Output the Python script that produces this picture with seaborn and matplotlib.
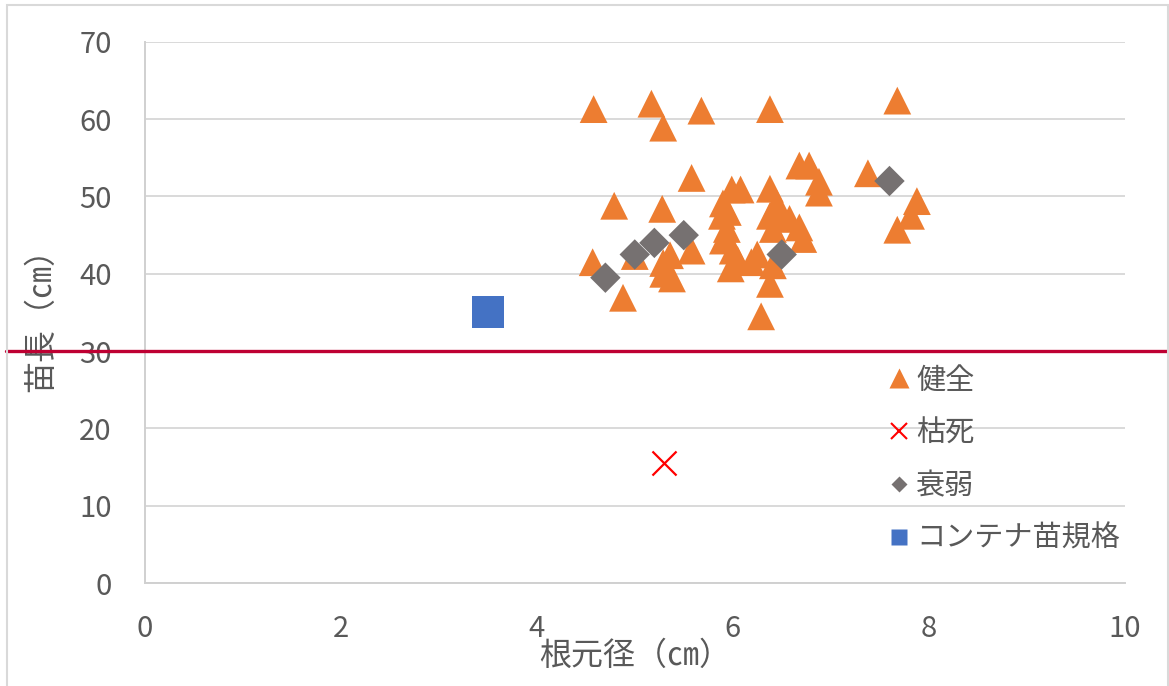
import matplotlib
matplotlib.use("Agg")
import matplotlib.pyplot as plt
from matplotlib.lines import Line2D
from matplotlib.patches import Rectangle
import seaborn as sns
import pandas as pd

# 健全 (healthy seedlings): root-collar diameter (cm), seedling height (cm)
healthy_x = [4.58, 5.17, 5.29, 5.68, 6.38, 7.68, 5.58, 4.79, 5.28, 7.38,
             6.68, 6.78, 6.88, 6.88, 7.88, 7.82, 7.68, 4.57, 4.88, 5.00,
             5.29, 5.38, 5.36, 5.58, 5.29, 5.99, 6.08, 5.90, 5.89, 5.94,
             5.90, 6.00, 5.98, 6.05, 6.19, 6.25, 6.38, 6.45, 6.58, 6.68,
             6.41, 6.72, 6.41, 6.38, 6.29, 6.50, 5.95, 6.38]
healthy_y = [61.3, 62.0, 58.9, 61.1, 61.3, 62.4, 52.4, 48.8, 48.4, 53.0,
             54.0, 54.0, 51.9, 50.5, 49.4, 47.5, 45.7, 41.5, 36.9, 42.3,
             41.4, 39.4, 42.4, 43.0, 40.0, 50.9, 50.9, 49.1, 47.5, 45.8,
             44.3, 43.0, 40.7, 41.8, 41.5, 42.5, 51.0, 49.1, 47.1, 46.0,
             45.8, 44.5, 41.1, 38.7, 34.5, 47.5, 48.0, 47.5]

# 枯死 (dead)
dead_x = [5.3]
dead_y = [15.5]

# 衰弱 (weakened)
weak_x = [4.7, 5.0, 5.2, 5.5, 6.5, 7.6]
weak_y = [39.5, 42.5, 44.0, 45.0, 42.5, 52.0]

# コンテナ苗規格 (container seedling standard)
std_x = [3.5]
std_y = [35.0]
std_height_line = 30.0

x_ticks = [0, 2, 4, 6, 8, 10]
y_ticks = [0, 10, 20, 30, 40, 50, 60, 70]

series_names = ["健全", "枯死", "衰弱", "コンテナ苗規格"]
colors = ["#ED7D31", "#FF0000", "#767171", "#4472C4"]

sns.set_theme(style="white")
plt.rcParams["font.family"] = ["Noto Sans CJK JP", "DejaVu Sans"]
text_color = "#595959"

fig = plt.figure(figsize=(11.69, 6.86), dpi=100)
fig.patch.set_facecolor("white")
fig.patches.append(Rectangle((0.006, -0.01), 0.993, 1.003, transform=fig.transFigure,
                             fill=False, edgecolor="#D9D9D9", linewidth=1.5))
ax = fig.add_axes([0.124, 0.150, 0.838, 0.789])

df_h = pd.DataFrame({"x": healthy_x, "y": healthy_y})
df_d = pd.DataFrame({"x": dead_x, "y": dead_y})
df_w = pd.DataFrame({"x": weak_x, "y": weak_y})
df_s = pd.DataFrame({"x": std_x, "y": std_y})

sns.scatterplot(data=df_h, x="x", y="y", ax=ax, marker="^", s=400,
                color=colors[0], edgecolor="none", zorder=3)
sns.scatterplot(data=df_d, x="x", y="y", ax=ax, marker="x", s=300,
                color=colors[1], linewidth=1.6, zorder=3)
sns.scatterplot(data=df_w, x="x", y="y", ax=ax, marker="D", s=240,
                color=colors[2], edgecolor="none", zorder=4)
sns.scatterplot(data=df_s, x="x", y="y", ax=ax, marker="s", s=530,
                color=colors[3], edgecolor="none", zorder=3)

# standard height reference line across the whole chart width
ax.axhline(std_height_line, xmin=-0.142, xmax=1.06, color="#BE0032",
           linewidth=2.4, clip_on=False, zorder=5)

ax.set_xlim(0, 10)
ax.set_ylim(0, 70)
ax.set_xticks(x_ticks)
ax.set_yticks(y_ticks)
ax.yaxis.grid(True, color="#D9D9D9", linewidth=1.4)
ax.xaxis.grid(False)
ax.set_axisbelow(True)
for side in ["top", "right"]:
    ax.spines[side].set_visible(False)
for side in ["left", "bottom"]:
    ax.spines[side].set_color("#D0D0D0")
    ax.spines[side].set_linewidth(1.4)
ax.tick_params(axis="both", length=0, labelsize=21, labelcolor=text_color)
ax.tick_params(axis="y", pad=24)
ax.tick_params(axis="x", pad=22)

ax.set_xlabel("根元径（㎝）", fontsize=23, color=text_color, labelpad=-3)
ax.set_ylabel("苗長（㎝）", fontsize=23, color=text_color, labelpad=16)

handles = [
    Line2D([], [], linestyle="none", marker="^", markersize=14,
           color=colors[0], markeredgecolor="none"),
    Line2D([], [], linestyle="none", marker="x", markersize=12,
           color=colors[1], markeredgewidth=1.5),
    Line2D([], [], linestyle="none", marker="D", markersize=8,
           color=colors[2], markeredgecolor="none"),
    Line2D([], [], linestyle="none", marker="s", markersize=12,
           color=colors[3], markeredgecolor="none"),
]
leg = ax.legend(handles, series_names, loc="center left",
                bbox_to_anchor=(0.756, 0.228), frameon=False,
                fontsize=21, labelcolor=text_color, handlelength=0.9,
                handletextpad=0.15, labelspacing=0.78, borderpad=0,
                borderaxespad=0)

fig.savefig("out.png", dpi=100, facecolor="white")
